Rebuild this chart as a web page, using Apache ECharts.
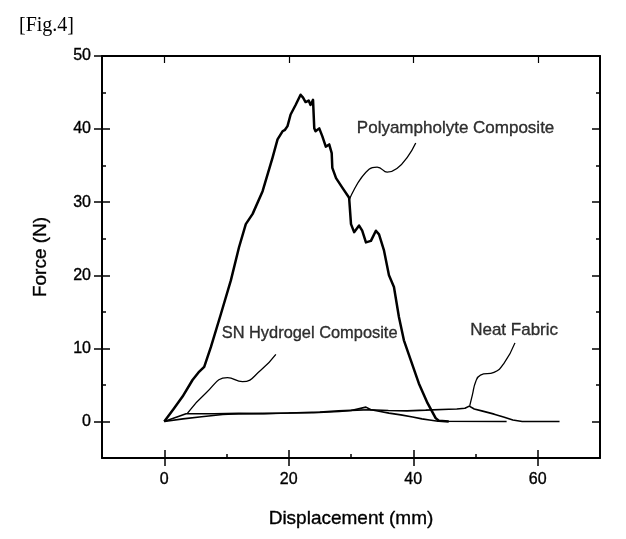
<!DOCTYPE html>
<html>
<head>
<meta charset="utf-8">
<script src="https://cdn.jsdelivr.net/npm/echarts@6/dist/echarts.min.js"></script>
<style>
html,body{margin:0;padding:0;background:#fff;}
#c{width:626px;height:539px;}
</style>
</head>
<body>
<div id="c"></div>
<script>
// ---- data ----
var polyX = [0,1.5,2.94,4.54,5.5,6.42,7.5,9.1,10.7,12.0,13.1,14.2,15.8,17.4,18.2,19.0,19.4,19.8,20.3,21.1,21.9,22.3,22.7,23.2,23.5,23.9,24.1,24.3,24.9,25.4,25.95,26.5,26.9,27.0,27.6,28.6,29.7,30.0,30.5,31.3,31.8,32.4,33.2,34.0,34.5,35.3,36.1,36.9,37.7,38.5,39.6,40.9,42.3,43.6,44.1,45.7];
var polyY = [0,1.7,3.4,5.67,6.7,7.48,10.2,14.7,19.3,23.8,27.0,28.4,31.5,36.1,38.6,39.7,39.9,40.4,42.0,43.3,44.7,44.3,43.7,43.9,43.3,44.0,40.1,39.7,40.1,39.0,37.6,37.9,36.7,34.7,33.3,32.0,30.6,27.0,25.9,26.8,26.1,24.5,24.7,26.1,25.6,23.4,20.0,18.4,14.3,11.1,8.4,5.2,2.5,0.46,0.1,0.0];

var snX = [0,3.5,8,12,16,20,24,28.1,30,32.4,33.2,34.5,36.1,38,39.9,41.4,42.6,44,55];
var snY = [0,1.05,1.05,1.1,1.05,1.15,1.2,1.36,1.5,1.96,1.6,1.4,1.14,0.9,0.6,0.35,0.2,0.02,0.0];

var neatX = [0,3,6,9.4,12,16,20,25,28,31,33,36,39,42,45.7,47,48.3,49,49.8,51,53,54.5,56,57.5,63.5];
var neatY = [0,0.35,0.65,0.95,1.05,1.1,1.15,1.3,1.45,1.55,1.6,1.5,1.45,1.55,1.68,1.7,1.8,2.1,1.7,1.45,1.0,0.6,0.2,0.0,0.0];

// leader (callout) curves
var polyLeadX = [29.7,32.9,34.2,35.8,40.4];
var polyLeadY = [30.3,34.5,34.8,34.1,38.1];
var snLeadX = [3.74,6.7,10.16,12.57,15.5,17.93];
var snLeadY = [1.14,3.9,6.0,5.44,7.0,9.17];
var neatLeadX = [49.07,49.5,50.03,50.8,52.97,54.57,56.34];
var neatLeadY = [2.14,3.63,5.44,6.35,6.72,7.94,10.75];

// annotation texts
var labelNames = ['Polyampholyte Composite','SN Hydrogel Composite','Neat Fabric'];
var labelX = [46.8,23.35,56.2];
var labelY = [40.1,12.0,12.5];

// axis ticks
var xMajor = [0,20,40,60];
var xMinor = [10,30,50];
var yMajor = [0,10,20,30,40,50];
var yMinor = [5,15,25,35,45];

// ---- chart ----
function pairs(xs, ys){ return xs.map(function(x,i){ return [x, ys[i]]; }); }
var INK = '#000';
var FONT = '"Liberation Sans", Arial, sans-serif';
var XMIN=-10, XMAX=70, YMIN=-5, YMAX=50;
var TB = {textBorderColor:'#000', textBorderWidth:0.35};
var labelFont = [17,16.4,17];

function xAx(o){
  var base = {type:'value', min:XMIN, max:XMAX, position:'bottom',
    splitLine:{show:false},
    axisLine:{show:false, onZero:false, lineStyle:{color:INK,width:2}},
    axisLabel:{show:false, customValues:xMajor},
    axisTick:{show:false}};
  return Object.assign(base,o);
}
function yAx(o){
  var base = {type:'value', min:YMIN, max:YMAX, position:'left',
    splitLine:{show:false},
    axisLine:{show:false, onZero:false, lineStyle:{color:INK,width:2}},
    axisLabel:{show:false, customValues:yMajor},
    axisTick:{show:false}};
  return Object.assign(base,o);
}
var LINE_ON = {show:true, onZero:false, lineStyle:{color:INK,width:2}};

var chart = echarts.init(document.getElementById('c'), null, {renderer:'canvas'});
var lineCommon = {type:'line', symbol:'none', silent:true, animation:false, xAxisIndex:0, yAxisIndex:0};

chart.setOption({
  animation:false,
  backgroundColor:'#fff',
  title:{text:'[Fig.4]', left:14, top:11,
    textStyle:{fontFamily:'"Liberation Serif", "Times New Roman", serif', fontSize:20, fontWeight:'normal', color:INK}},
  grid:{left:102, right:26, top:56, bottom:81, containLabel:false, outerBoundsMode:'none'},
  xAxis:[
    xAx({axisLine:LINE_ON,
      axisLabel:Object.assign({show:true, customValues:xMajor, margin:14, fontSize:16, fontFamily:FONT, color:INK}, TB),
      axisTick:{show:true, customValues:xMajor, inside:false, length:8, lineStyle:{color:INK,width:1.5}},
      name:'Displacement (mm)', nameLocation:'middle', nameGap:51,
      nameTextStyle:Object.assign({fontSize:19, fontFamily:FONT, color:INK}, TB)}),
    xAx({axisTick:{show:true, customValues:xMajor, inside:true, length:8, lineStyle:{color:INK,width:1.5}}}),
    xAx({axisTick:{show:true, customValues:xMinor, inside:true, length:4, lineStyle:{color:INK,width:1.5}}, axisLabel:{show:false, customValues:xMinor}}),
    xAx({position:'top', axisLine:LINE_ON,
      axisTick:{show:true, customValues:xMajor, inside:true, length:7, lineStyle:{color:INK,width:1.2}}})
  ],
  yAxis:[
    yAx({axisLine:LINE_ON,
      axisLabel:Object.assign({show:true, customValues:yMajor, margin:11, fontSize:16, fontFamily:FONT, color:INK}, TB),
      axisTick:{show:true, customValues:yMajor, inside:false, length:8, lineStyle:{color:INK,width:1.5}},
      name:'Force (N)', nameLocation:'middle', nameGap:52, nameRotate:90,
      nameTextStyle:Object.assign({fontSize:19, fontFamily:FONT, color:INK}, TB)}),
    yAx({axisTick:{show:true, customValues:yMajor, inside:true, length:8, lineStyle:{color:INK,width:1.5}}}),
    yAx({axisTick:{show:true, customValues:yMinor, inside:true, length:4, lineStyle:{color:INK,width:1.5}}, axisLabel:{show:false, customValues:yMinor}}),
    yAx({position:'right', axisLine:LINE_ON,
      axisTick:{show:true, customValues:yMajor, inside:true, length:8, lineStyle:{color:INK,width:1.5}}}),
    yAx({position:'right', axisTick:{show:true, customValues:yMinor, inside:true, length:4, lineStyle:{color:INK,width:1.5}}, axisLabel:{show:false, customValues:yMinor}})
  ],
  series:[
    Object.assign({}, lineCommon, {name:'Neat Fabric', data:pairs(neatX,neatY), lineStyle:{color:INK,width:1.6}, z:3}),
    Object.assign({}, lineCommon, {name:'SN Hydrogel Composite', data:pairs(snX,snY), lineStyle:{color:INK,width:1.6}, z:3}),
    Object.assign({}, lineCommon, {name:'Polyampholyte Composite', data:pairs(polyX,polyY), lineStyle:{color:INK,width:2.5, join:'round'}, z:4}),
    Object.assign({}, lineCommon, {name:'lead1', data:pairs(polyLeadX,polyLeadY), smooth:0.5, lineStyle:{color:INK,width:1.3}}),
    Object.assign({}, lineCommon, {name:'lead2', data:pairs(snLeadX,snLeadY), smooth:0.5, lineStyle:{color:INK,width:1.3}}),
    Object.assign({}, lineCommon, {name:'lead3', data:pairs(neatLeadX,neatLeadY), smooth:0.5, lineStyle:{color:INK,width:1.3}}),
    {type:'scatter', silent:true, animation:false, symbolSize:1, itemStyle:{color:'rgba(0,0,0,0)'},
      data:labelNames.map(function(n,i){ return {name:n, value:[labelX[i], labelY[i]], label:{fontSize:labelFont[i]}}; }),
      label:Object.assign({show:true, position:'inside', formatter:'{b}', fontSize:17, fontFamily:FONT, color:INK}, TB)}
  ]
});
</script>
</body>
</html>
